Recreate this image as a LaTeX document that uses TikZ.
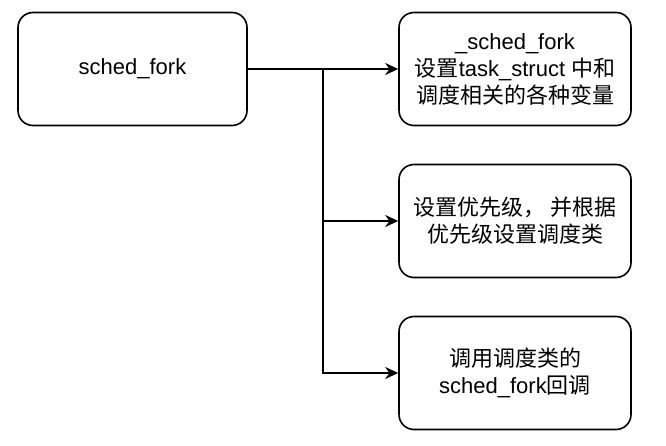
\documentclass[tikz,border=0pt]{standalone}
\usepackage{fontspec}
\setmainfont{Liberation Sans}
\newfontfamily\cjk{Noto Sans CJK SC}
\usetikzlibrary{arrows.meta}

\begin{document}
\begin{tikzpicture}
		[
		x=1pt, y=-1pt,
		font=\fontsize{22}{27}\selectfont,
		line width=1.6pt,
		>={Stealth[length=13pt,width=12pt]}
		]
		
		% Box style: rounded, black border
		\tikzstyle{step box}=[draw,rounded corners=15pt,minimum width=229pt,minimum height=113pt,align=center,inner sep=2pt];
		\tikzstyle{link}=[->,line width=1.6pt];
		
		\useasboundingbox (0,0) rectangle (666,446);
		
		% Caller
		\node(fork)[step box]at(132.5,69){sched\_fork};
		
		% What it does
		\node(set)[step box,minimum width=232pt]at(515,69){\_sched\_fork\\{\cjk 设置}task\_struct {\cjk 中和}\\{\cjk 调度相关的各种变量}};
		\node(prio)[step box,minimum width=232pt]at(515,221){{\cjk 设置优先级， 并根据}\\{\cjk 优先级设置调度类}};
		\node(call)[step box,minimum width=232pt]at(515,373){{\cjk 调用调度类的}\\sched\_fork{\cjk 回调}};
		
		% Branch point
		\coordinate(split)at(323,69);
		
		% Links
		\draw[link](fork.east)--(set.west);
		\draw[link](split)|-(prio.west);
		\draw[link](split)|-(call.west);
		\end{tikzpicture}
\end{document}
